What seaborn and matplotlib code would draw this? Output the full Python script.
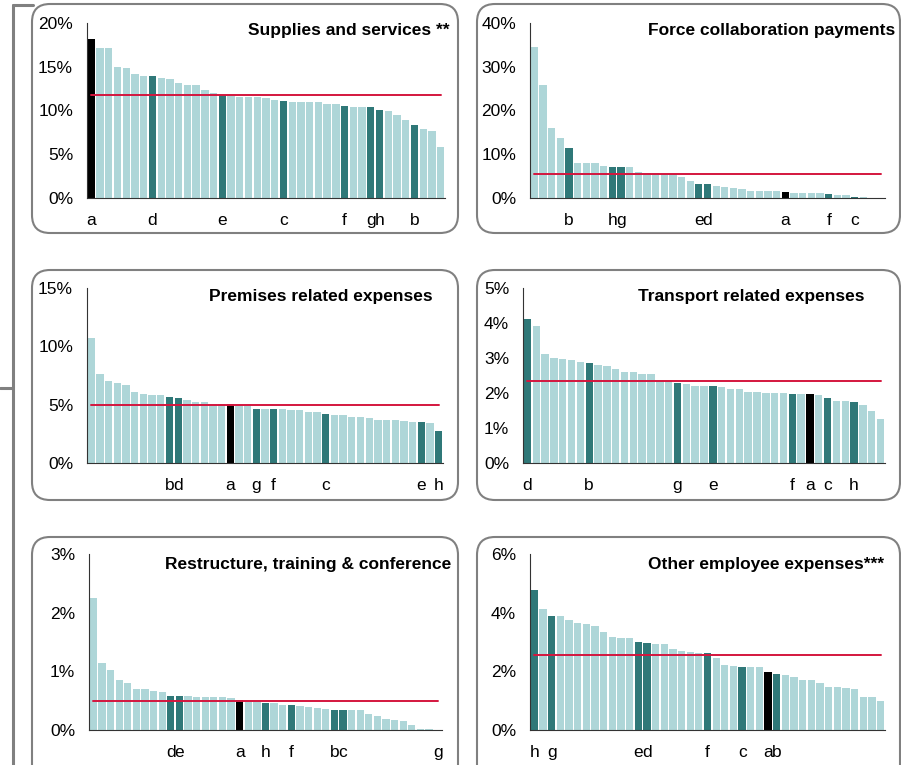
import numpy as np
import pandas as pd
import matplotlib
matplotlib.use('Agg')
import matplotlib.pyplot as plt
import seaborn as sns
from matplotlib.patches import FancyBboxPatch
from matplotlib.lines import Line2D
from matplotlib.ticker import FuncFormatter

# ── Data (share of spend per force, %, sorted) ───────────────────────────────
supplies_vals = [18.2, 17.15, 17.1, 15.0, 14.85, 14.2, 14.0, 14.0, 13.7, 13.55,
                 13.1, 12.9, 12.9, 12.3, 11.95, 11.8, 11.7, 11.5, 11.5, 11.5,
                 11.45, 11.2, 11.05, 10.95, 10.95, 10.95, 10.95, 10.75, 10.75, 10.5,
                 10.45, 10.4, 10.35, 10.1, 10.0, 9.5, 8.9, 8.35, 7.9, 7.7, 5.8]
supplies_letters = ['a', 'd', 'e', 'c', 'f', 'g', 'h', 'b']
supplies_idx     = [0, 7, 15, 22, 29, 32, 33, 37]
supplies_mean    = 11.8

force_vals = [34.6, 25.8, 16.1, 13.8, 11.4, 8.1, 8.0, 7.9, 7.4, 7.1,
              7.1, 7.0, 6.0, 5.8, 5.8, 5.6, 5.5, 4.8, 4.0, 3.3,
              3.1, 2.8, 2.6, 2.2, 2.1, 1.7, 1.7, 1.6, 1.5, 1.3,
              1.2, 1.2, 1.2, 1.1, 0.9, 0.8, 0.7, 0.3, 0.3, 0.0, 0.0]
force_letters = ['b', 'h', 'g', 'e', 'd', 'a', 'f', 'c']
force_idx     = [4, 9, 10, 19, 20, 29, 34, 37]
force_mean    = 5.5

premises_vals = [10.7, 7.65, 7.0, 6.85, 6.65, 6.1, 5.95, 5.85, 5.85, 5.7,
                 5.6, 5.4, 5.2, 5.2, 5.1, 5.1, 5.05, 4.95, 4.85, 4.65,
                 4.6, 4.6, 4.6, 4.55, 4.5, 4.4, 4.4, 4.2, 4.15, 4.15,
                 3.95, 3.95, 3.85, 3.7, 3.7, 3.65, 3.6, 3.55, 3.5, 3.4, 2.75]
premises_letters = ['b', 'd', 'a', 'g', 'f', 'c', 'e', 'h']
premises_idx     = [9, 10, 16, 19, 21, 27, 38, 40]
premises_mean    = 5.0

transport_vals = [4.12, 3.92, 3.1, 3.0, 2.98, 2.95, 2.9, 2.85, 2.8, 2.78,
                  2.68, 2.6, 2.6, 2.55, 2.53, 2.35, 2.33, 2.28, 2.26, 2.21,
                  2.21, 2.19, 2.17, 2.12, 2.12, 2.04, 2.04, 2.01, 2.0, 1.99,
                  1.96, 1.96, 1.98, 1.95, 1.85, 1.78, 1.77, 1.73, 1.66, 1.48, 1.25]
transport_letters = ['d', 'b', 'g', 'e', 'f', 'a', 'c', 'h']
transport_idx     = [0, 7, 17, 21, 30, 32, 34, 37]
transport_mean    = 2.35

restructure_vals = [2.25, 1.15, 1.02, 0.85, 0.8, 0.7, 0.7, 0.66, 0.65, 0.58,
                    0.58, 0.58, 0.57, 0.57, 0.57, 0.56, 0.54, 0.51, 0.47, 0.47,
                    0.46, 0.46, 0.42, 0.42, 0.41, 0.39, 0.38, 0.35, 0.34, 0.34,
                    0.34, 0.34, 0.28, 0.24, 0.18, 0.17, 0.16, 0.09, 0.01, 0.01, 0.0]
restructure_letters = ['d', 'e', 'a', 'h', 'f', 'b', 'c', 'g']
restructure_idx     = [9, 10, 17, 20, 23, 28, 29, 40]
restructure_mean    = 0.5

other_vals = [4.78, 4.12, 3.9, 3.9, 3.76, 3.65, 3.63, 3.53, 3.35, 3.18,
              3.12, 3.12, 3.0, 2.96, 2.94, 2.92, 2.77, 2.7, 2.66, 2.64,
              2.62, 2.46, 2.2, 2.18, 2.16, 2.16, 2.15, 1.98, 1.9, 1.87,
              1.8, 1.71, 1.71, 1.6, 1.48, 1.46, 1.42, 1.4, 1.14, 1.12, 0.98]
other_letters = ['h', 'g', 'e', 'd', 'f', 'c', 'a', 'b']
other_idx     = [0, 2, 12, 13, 20, 24, 27, 28]
other_mean    = 2.56

# ── Style ─────────────────────────────────────────────────────────────────────
LIGHT, DARK, KEY = "#aed6d8", "#2f7878", "#000000"
RED   = "#d4163e"
FRAME = "#808080"
PALETTE = {"light": LIGHT, "dark": DARK, "key": KEY}
FS = 12.5

W, H = 901, 765

def fx(px):
    return px / W

def fy(py):
    return 1 - py / H

# title, values, letters, idx, mean, yticks, axes box (x0, x1, ytop, ybot), title anchor
PANELS = [
    ("Supplies and services **", supplies_vals, supplies_letters, supplies_idx,
     supplies_mean, [0, 5, 10, 15, 20], (87, 445, 23, 198), (450, 31)),
    ("Force collaboration payments", force_vals, force_letters, force_idx,
     force_mean, [0, 10, 20, 30, 40], (530, 885, 23, 198), (895, 31)),
    ("Premises related expenses", premises_vals, premises_letters, premises_idx,
     premises_mean, [0, 5, 10, 15], (87, 443, 288, 463), (433, 297)),
    ("Transport related expenses", transport_vals, transport_letters, transport_idx,
     transport_mean, [0, 1, 2, 3, 4, 5], (523, 885, 288, 463), (864, 297)),
    ("Restructure, training & conference", restructure_vals, restructure_letters,
     restructure_idx, restructure_mean, [0, 1, 2, 3], (89, 442, 554, 730), (451, 565)),
    ("Other employee expenses***", other_vals, other_letters, other_idx,
     other_mean, [0, 2, 4, 6], (530, 885, 554, 730), (884, 564)),
]

# rounded frames (x0, x1, ytop, ybot) in px
FRAMES = [(32, 458, 4, 233), (477, 900, 4, 233),
          (32, 458, 270, 500), (477, 900, 270, 500),
          (32, 458, 537, 800), (477, 900, 537, 800)]

sns.set_theme(style="white")
plt.rcParams["font.family"] = ["Liberation Sans", "DejaVu Sans"]

fig = plt.figure(figsize=(W / 100, H / 100), dpi=100)
fig.patch.set_facecolor("white")

# ── Frames and left bracket ──────────────────────────────────────────────────
for x0, x1, yt, yb in FRAMES:
    box = FancyBboxPatch((x0 / 100, (H - yb) / 100), (x1 - x0) / 100, (yb - yt) / 100,
                         boxstyle="round,pad=0,rounding_size=0.18",
                         transform=fig.dpi_scale_trans, fill=False,
                         ec=FRAME, lw=1.5)
    fig.add_artist(box)

for xs, ys in [((13, 13), (5, 765)), ((13, 33), (5, 5)), ((0, 13), (388, 388))]:
    fig.add_artist(Line2D([fx(x) for x in xs], [fy(y) for y in ys],
                          transform=fig.transFigure, color=FRAME, lw=2.2))

# ── Panels ───────────────────────────────────────────────────────────────────
for title, vals, letters, idx, mean, yticks, (x0, x1, yt, yb), (tx, ty) in PANELS:
    ax = fig.add_axes([fx(x0), fy(yb), fx(x1) - fx(x0), fy(yt) - fy(yb)])
    n = len(vals)
    group = ["light"] * n
    for letter, i in zip(letters, idx):
        group[i] = "key" if letter == "a" else "dark"
    df = pd.DataFrame({"pos": np.arange(n), "value": vals, "group": group})

    sns.barplot(data=df, x="pos", y="value", hue="group", palette=PALETTE,
                dodge=False, legend=False, width=0.84, saturation=1,
                linewidth=0, ax=ax)
    ax.plot(df["pos"], np.full(n, mean), color=RED, lw=1.4, zorder=5)

    ax.set_xlim(-0.5, n - 0.5)
    ax.set_ylim(0, yticks[-1])
    ax.set_yticks(yticks)
    ax.yaxis.set_major_formatter(FuncFormatter(lambda v, p: f"{v:.0f}%"))
    ax.set_xticks(idx)
    ax.set_xticklabels(letters)
    ax.set_xlabel("")
    ax.set_ylabel("")
    ax.tick_params(axis="x", length=0, pad=11, labelsize=FS, colors="black")
    ax.tick_params(axis="y", direction="out", length=4, width=0.8, pad=6,
                   labelsize=FS, colors="#333333", labelcolor="black")
    ax.set_facecolor("none")
    sns.despine(ax=ax)
    for side in ("left", "bottom"):
        ax.spines[side].set_color("#333333")
        ax.spines[side].set_linewidth(0.8)

    fig.text(fx(tx), fy(ty), title, ha="right", va="center",
             fontsize=FS, fontweight="bold", color="black")

fig.savefig("out.png", dpi=100, facecolor="white")
